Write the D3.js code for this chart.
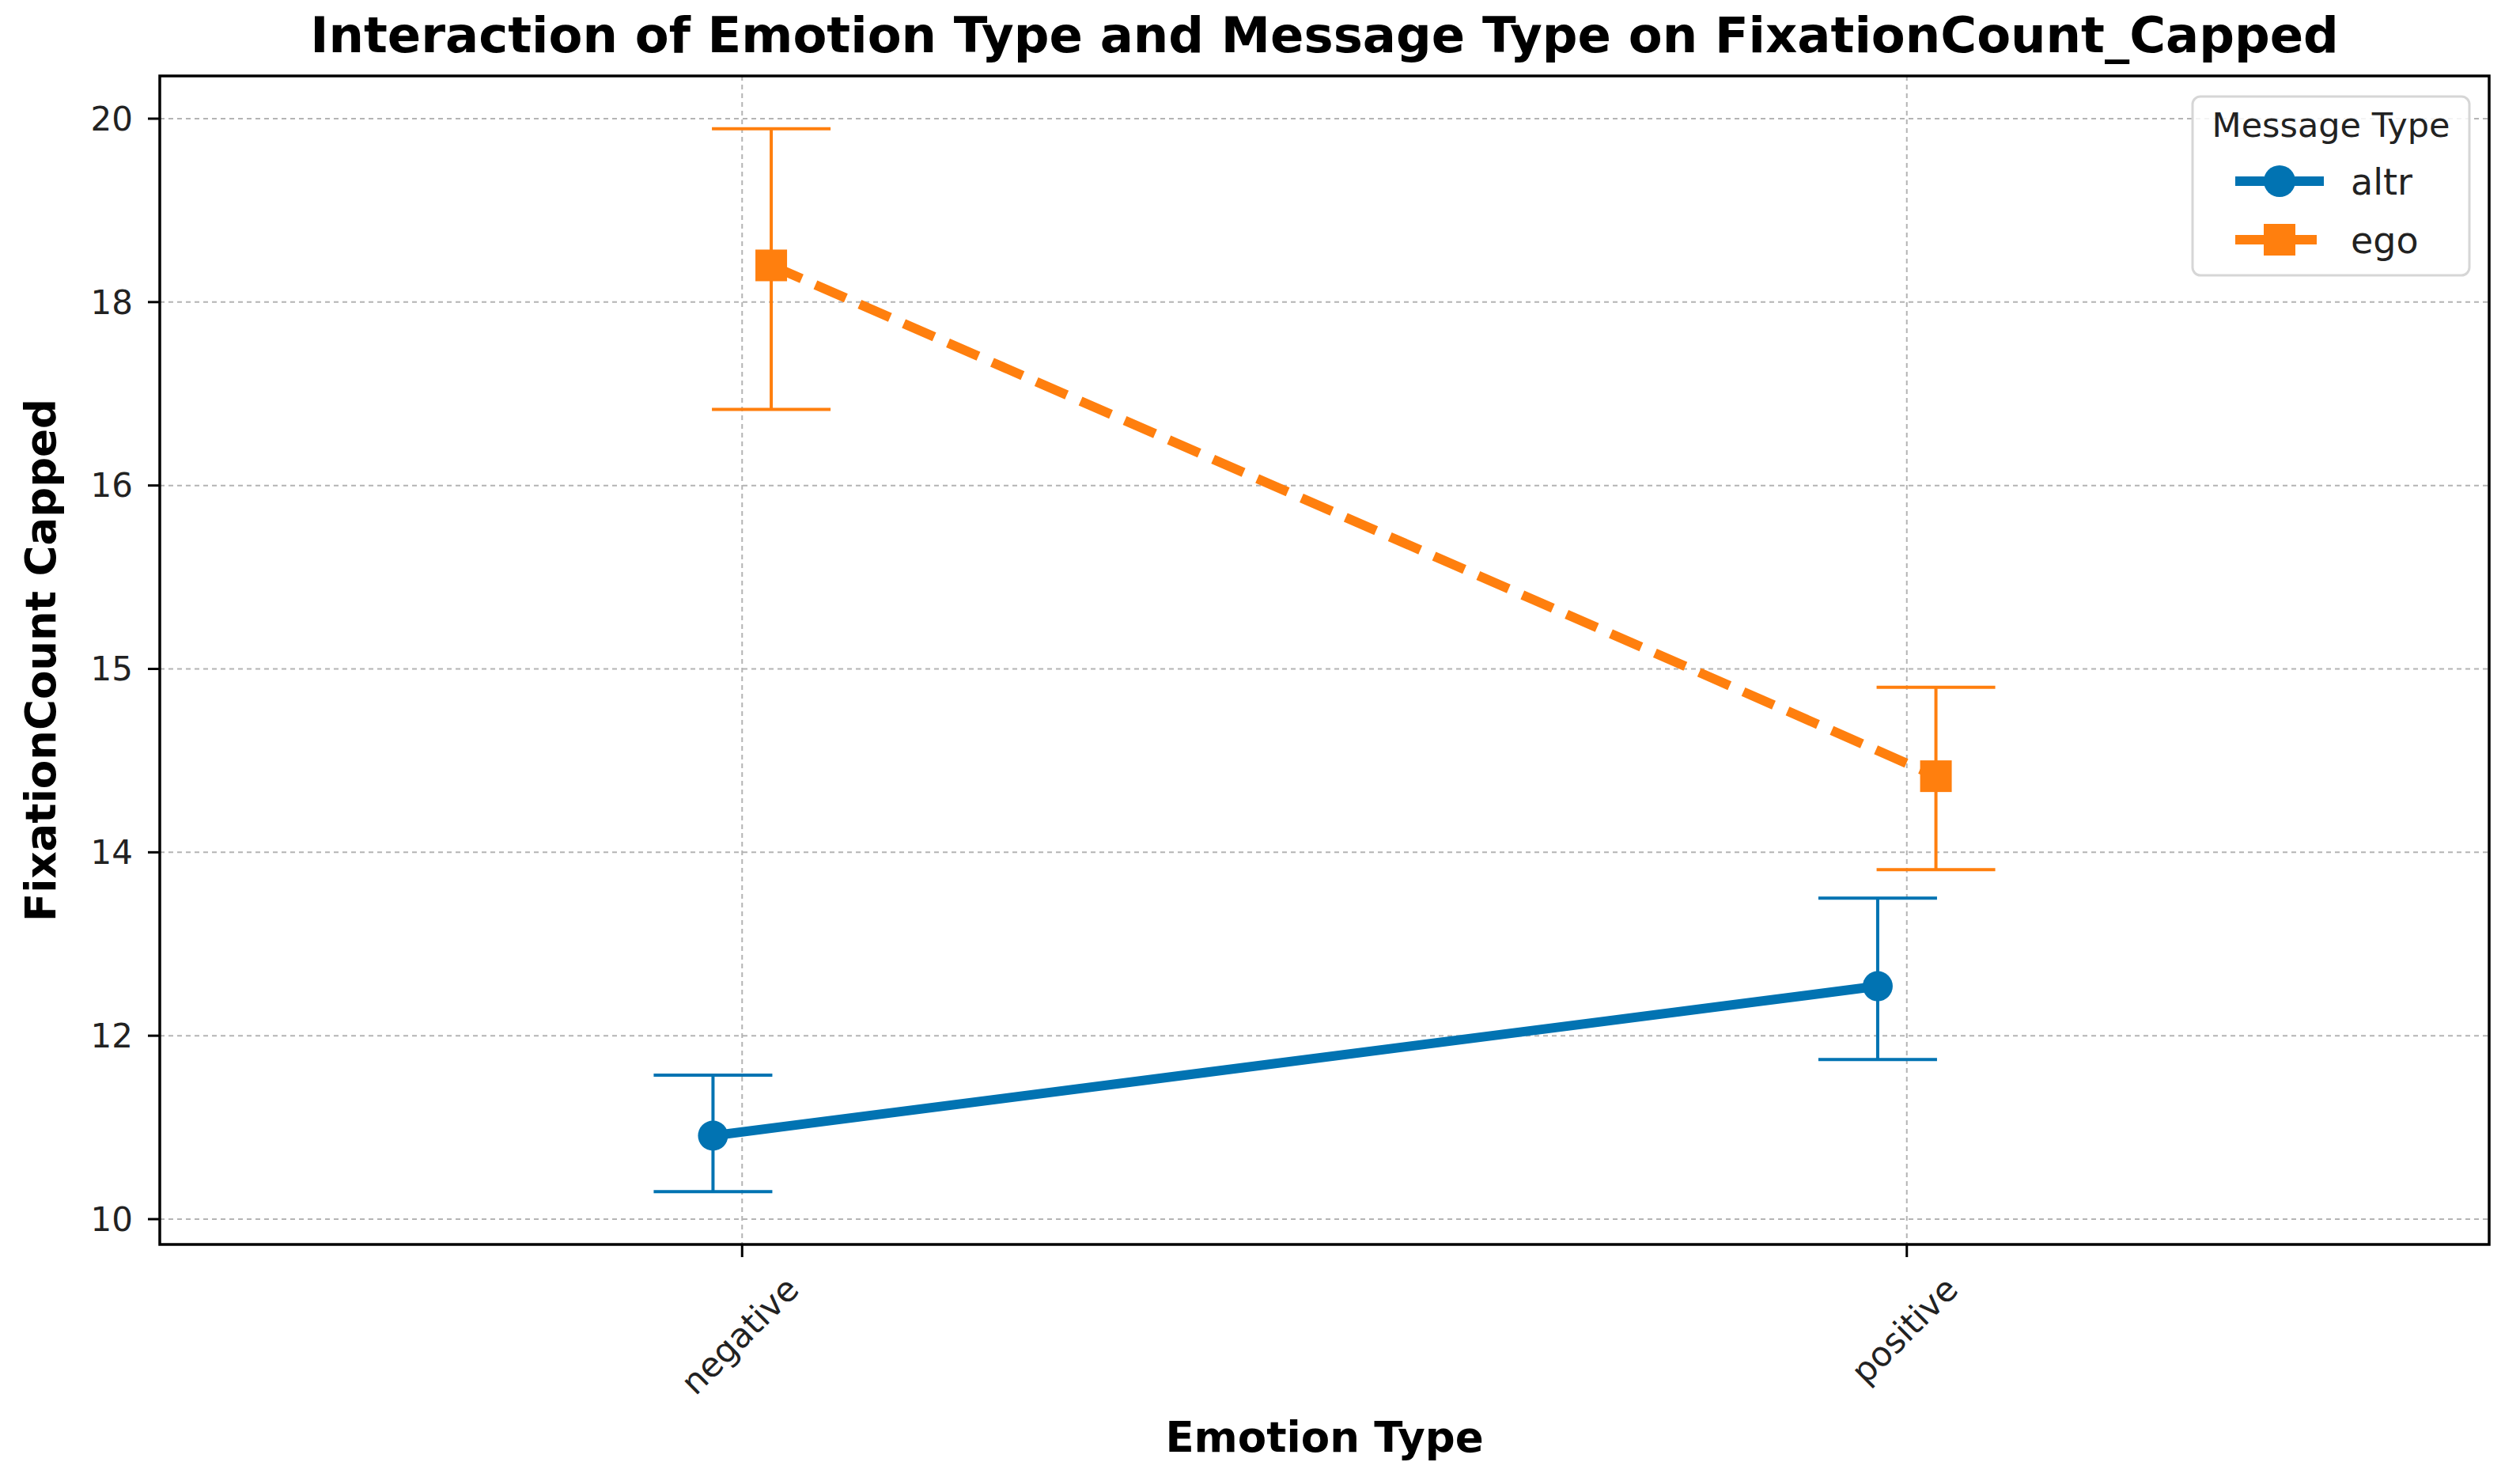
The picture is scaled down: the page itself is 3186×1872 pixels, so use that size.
<!DOCTYPE html>
<html>
<head>
<meta charset="utf-8">
<script src="https://cdn.jsdelivr.net/npm/d3@7"></script>
<style>
  html, body { margin: 0; padding: 0; background: #ffffff; }
  svg { display: block; font-family: "DejaVu Sans", sans-serif; }
</style>
</head>
<body>
<script>
// ---------------- data ----------------
const categories = ["negative", "positive"];
const seriesNames = ["altr", "ego"];
const altrMean = [10.91, 12.54];
const altrLow  = [10.30, 11.74];
const altrHigh = [11.57, 13.50];
const egoMean  = [18.40, 14.415];
const egoLow   = [16.83, 13.81];
const egoHigh  = [19.89, 14.90];
const yTickValues = [10, 12, 14, 15, 16, 18, 20];
const yTickLabels = ["10", "12", "14", "15", "16", "18", "20"];
const titleText = "Interaction of Emotion Type and Message Type on FixationCount_Capped";
const xLabelText = "Emotion Type";
const yLabelText = "FixationCount Capped";
const legendTitleText = "Message Type";

// ---------------- layout ----------------
const W = 3186, H = 1872;
const plot = { left: 202, right: 3147, top: 96, bottom: 1573 };
const yPadTop = 54, yPadBottom = 32;
const colors = { altr: "#0173b2", ego: "#ff7f0e" };

const svg = d3.select("body").append("svg").attr("width", W).attr("height", H);

const x = d3.scalePoint().domain(categories).range([plot.left, plot.right]).padding(0.5);
const yStep = (plot.bottom - yPadBottom - (plot.top + yPadTop)) / (yTickValues.length - 1);
const y = d3.scaleLinear()
  .domain(yTickValues)
  .range(yTickValues.map((d, i) => plot.bottom - yPadBottom - i * yStep));

const dodge = x.step() * 0.025;

// grid
const grid = svg.append("g");
grid.selectAll("line.hg").data(yTickValues).join("line")
  .attr("x1", plot.left).attr("x2", plot.right)
  .attr("y1", d => y(d)).attr("y2", d => y(d))
  .attr("stroke", "#b4b4b4").attr("stroke-width", 2).attr("stroke-dasharray", "6,5");
grid.selectAll("line.vg").data(categories).join("line")
  .attr("x1", d => x(d)).attr("x2", d => x(d))
  .attr("y1", plot.top).attr("y2", plot.bottom)
  .attr("stroke", "#b4b4b4").attr("stroke-width", 2).attr("stroke-dasharray", "6,5");

// series
const series = [
  { name: "altr", mean: altrMean, low: altrLow, high: altrHigh, off: -dodge, dash: null, marker: "circle" },
  { name: "ego",  mean: egoMean,  low: egoLow,  high: egoHigh,  off: dodge,  dash: "42,19", marker: "square" }
];

const capHalf = 75;
series.forEach(s => {
  const g = svg.append("g");
  const pts = categories.map((c, i) => ({ c, i, x: x(c) + s.off }));
  // error bars
  g.selectAll("line.eb").data(pts).join("line")
    .attr("x1", d => d.x).attr("x2", d => d.x)
    .attr("y1", d => y(s.low[d.i])).attr("y2", d => y(s.high[d.i]))
    .attr("stroke", colors[s.name]).attr("stroke-width", 4);
  g.append("g").selectAll("line").data(pts).join("line")
    .attr("x1", d => d.x - capHalf).attr("x2", d => d.x + capHalf)
    .attr("y1", d => y(s.low[d.i])).attr("y2", d => y(s.low[d.i]))
    .attr("stroke", colors[s.name]).attr("stroke-width", 4);
  g.append("g").selectAll("line").data(pts).join("line")
    .attr("x1", d => d.x - capHalf).attr("x2", d => d.x + capHalf)
    .attr("y1", d => y(s.high[d.i])).attr("y2", d => y(s.high[d.i]))
    .attr("stroke", colors[s.name]).attr("stroke-width", 4);
  // line
  const line = d3.line().x(d => d.x).y(d => y(s.mean[d.i]));
  g.append("path").datum(pts).attr("d", line)
    .attr("fill", "none").attr("stroke", colors[s.name]).attr("stroke-width", 12)
    .attr("stroke-dasharray", s.dash);
  // markers
  if (s.marker === "circle") {
    g.selectAll("circle").data(pts).join("circle")
      .attr("cx", d => d.x).attr("cy", d => y(s.mean[d.i])).attr("r", 19)
      .attr("fill", colors[s.name]);
  } else {
    g.selectAll("rect").data(pts).join("rect")
      .attr("x", d => d.x - 20).attr("y", d => y(s.mean[d.i]) - 20)
      .attr("width", 40).attr("height", 40)
      .attr("fill", colors[s.name]);
  }
});

// spines
svg.append("rect")
  .attr("x", plot.left).attr("y", plot.top)
  .attr("width", plot.right - plot.left).attr("height", plot.bottom - plot.top)
  .attr("fill", "none").attr("stroke", "#000").attr("stroke-width", 3.5);

// y ticks
const yt = svg.append("g");
yt.selectAll("line").data(yTickValues).join("line")
  .attr("x1", plot.left - 15).attr("x2", plot.left)
  .attr("y1", d => y(d)).attr("y2", d => y(d))
  .attr("stroke", "#000").attr("stroke-width", 3);
yt.selectAll("text").data(yTickValues).join("text")
  .attr("x", 168).attr("y", d => y(d)).attr("dy", "0.35em")
  .attr("text-anchor", "end").attr("font-size", 42).attr("fill", "#222")
  .text((d, i) => yTickLabels[i]);

// x ticks
const xt = svg.append("g");
xt.selectAll("line").data(categories).join("line")
  .attr("x1", d => x(d)).attr("x2", d => x(d))
  .attr("y1", plot.bottom).attr("y2", plot.bottom + 16)
  .attr("stroke", "#000").attr("stroke-width", 3);
xt.selectAll("text").data(categories).join("text")
  .attr("font-size", 43).attr("fill", "#222")
  .attr("text-anchor", "middle").attr("dominant-baseline", "central")
  .attr("transform", d => `translate(${x(d) - 3},0) rotate(-45)`)
  .text(d => d)
  .each(function (d) {
    const r = this.getBoundingClientRect();
    const top = 1604;
    const cy = top + r.height / 2;
    d3.select(this).attr("transform", `translate(${x(d) - 3},${cy}) rotate(-45)`);
  });

// axis labels
svg.append("text")
  .attr("x", (plot.left + plot.right) / 2).attr("y", 1835)
  .attr("text-anchor", "middle").attr("font-size", 53).attr("font-weight", "bold")
  .text(xLabelText);
svg.append("text")
  .attr("transform", `translate(70,${(plot.top + plot.bottom) / 2}) rotate(-90)`)
  .attr("text-anchor", "middle").attr("font-size", 53).attr("font-weight", "bold")
  .text(yLabelText);

// title
svg.append("text")
  .attr("x", (plot.left + plot.right) / 2).attr("y", 66)
  .attr("text-anchor", "middle").attr("font-size", 62.5).attr("font-weight", "bold")
  .text(titleText);

// legend
const lg = svg.append("g");
lg.append("rect")
  .attr("x", 2772).attr("y", 122).attr("width", 350).attr("height", 226)
  .attr("rx", 10).attr("fill", "#fff").attr("fill-opacity", 0.85)
  .attr("stroke", "#d6d6d6").attr("stroke-width", 3);
lg.append("text").attr("x", 2947).attr("y", 173)
  .attr("text-anchor", "middle").attr("font-size", 43).attr("fill", "#222")
  .text(legendTitleText);
const legY = [229, 303];
series.forEach((s, i) => {
  lg.append("line").attr("x1", 2826).attr("x2", 2938)
    .attr("y1", legY[i]).attr("y2", legY[i])
    .attr("stroke", colors[s.name]).attr("stroke-width", 12)
    .attr("stroke-dasharray", s.dash);
  if (s.marker === "circle") {
    lg.append("circle").attr("cx", 2882).attr("cy", legY[i]).attr("r", 20).attr("fill", colors[s.name]);
  } else {
    lg.append("rect").attr("x", 2862).attr("y", legY[i] - 20).attr("width", 40).attr("height", 40).attr("fill", colors[s.name]);
  }
  lg.append("text").attr("x", 2972).attr("y", legY[i]).attr("dy", "0.36em")
    .attr("font-size", 46).attr("fill", "#222").text(seriesNames[i]);
});
</script>
</body>
</html>
